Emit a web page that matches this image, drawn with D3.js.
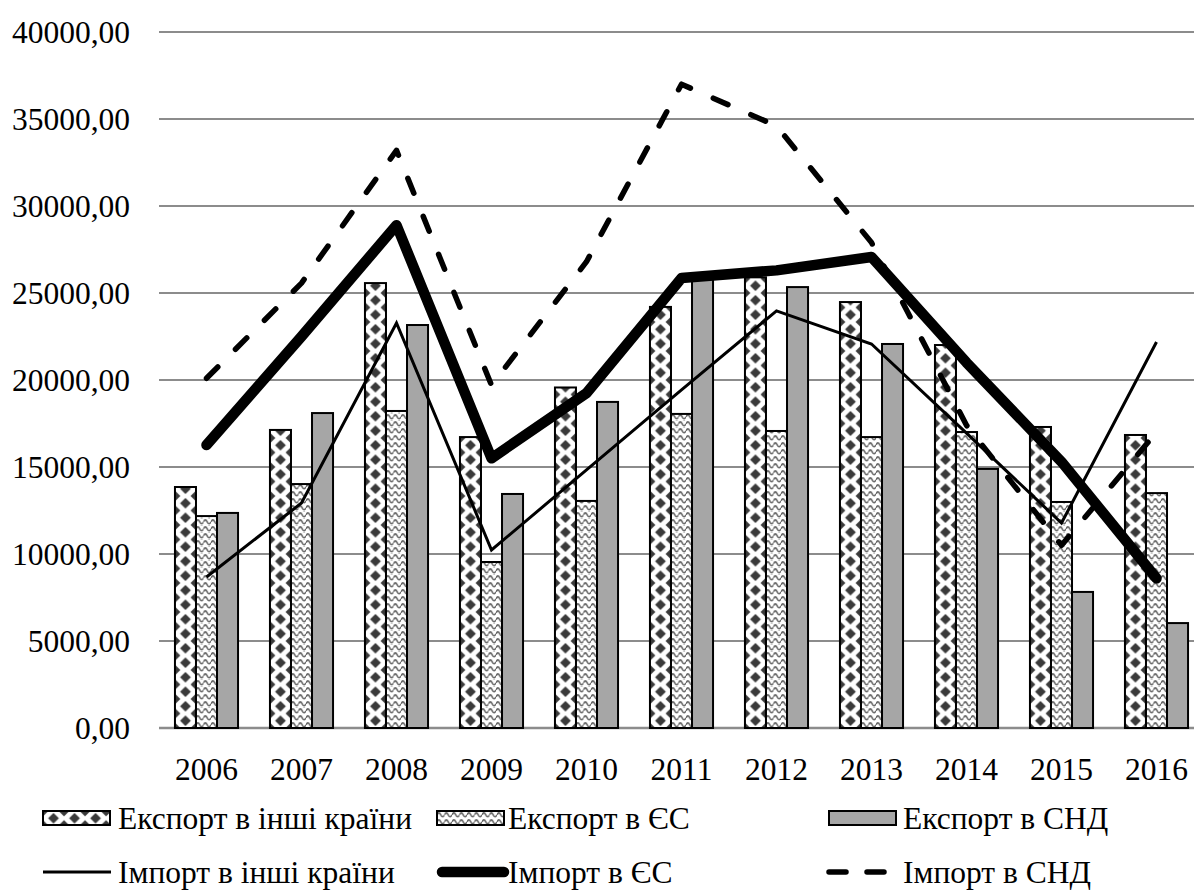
<!DOCTYPE html>
<html><head><meta charset="utf-8">
<script src="https://cdn.jsdelivr.net/npm/d3@7"></script>
<style>
html,body{margin:0;padding:0;background:#fff;}
text{font-family:"Liberation Serif","Times New Roman",serif;fill:#000;}
</style></head>
<body><svg id="chart" width="1194" height="893"></svg>
<script>
const years = ["2006","2007","2008","2009","2010","2011","2012","2013","2014","2015","2016"];
const exportOther = [13850,17130,25570,16720,19570,24200,25900,24480,22010,17300,16840];
const exportEU    = [12180,14020,18220,9540,13050,18050,17070,16720,17010,12990,13500];
const exportCIS   = [12360,18100,23160,13450,18740,25900,25340,22070,14890,7820,6030];
const importOther = [8680,12930,23280,10230,14830,19430,23970,22070,16950,11780,22180];
const importEU    = [16260,22500,28900,15500,19250,25860,26300,27070,21000,15300,8600];
const importCIS   = [20100,25570,33200,19700,26800,37000,34600,27900,17400,10500,17000];
const yTicks = [0,5000,10000,15000,20000,25000,30000,35000,40000];
const barSeriesNames = ["Експорт в інші країни","Експорт в ЄС","Експорт в СНД"];
const lineSeriesNames = ["Імпорт в інші країни","Імпорт в ЄС","Імпорт в СНД"];

const FS = 31.5;
const svg = d3.select("#chart");
svg.append("rect").attr("width",1194).attr("height",893).attr("fill","#fff");
const defs = svg.append("defs");

const x0 = d3.scaleBand().domain(years).range([159,1204]).padding(0);
const bw = x0.bandwidth();
const gap = bw*0.168;
const x1 = d3.scaleBand().domain([0,1,2]).range([gap,bw-gap]).padding(0);
const y = d3.scaleLinear().domain([0,40000]).range([728,32]);

// gridlines
svg.append("g").selectAll("line").data(yTicks).join("line")
  .attr("x1",159).attr("x2",1194)
  .attr("y1",d=>y(d)).attr("y2",d=>y(d))
  .attr("stroke","#8c8c8c").attr("stroke-width",d=>d===0?2.5:2);

// y labels
svg.append("g").selectAll("text").data(yTicks).join("text")
  .attr("x",130).attr("y",d=>y(d)).attr("dy","0.35em")
  .attr("text-anchor","end").attr("font-size",FS)
  .text(d=>d3.format(".2f")(d).replace(".",","));

// x labels
svg.append("g").selectAll("text").data(years).join("text")
  .attr("x",d=>x0(d)+bw/2).attr("y",780)
  .attr("text-anchor","middle").attr("font-size",FS).text(d=>d);

// pattern builders
function diamondPattern(id, px, py){
  const w = x1.bandwidth(), h = 14.5, r = 5.4;
  const p = defs.append("pattern").attr("id",id).attr("patternUnits","userSpaceOnUse")
    .attr("x",px).attr("y",py).attr("width",w).attr("height",h);
  p.append("rect").attr("width",w).attr("height",h).attr("fill","#fff");
  const centers = [[w/2,h/2],[0,0],[w,0],[0,h],[w,h]];
  p.selectAll("path").data(centers).join("path")
    .attr("d",c=>`M${c[0]},${c[1]-r}L${c[0]+r},${c[1]}L${c[0]},${c[1]+r}L${c[0]-r},${c[1]}Z`)
    .attr("fill","#3a3a3a");
}
function wavePattern(id, px, py){
  const w = 7.5, h = 7;
  const p = defs.append("pattern").attr("id",id).attr("patternUnits","userSpaceOnUse")
    .attr("x",px).attr("y",py).attr("width",w).attr("height",h);
  p.append("rect").attr("width",w).attr("height",h).attr("fill","#fff");
  p.append("path").attr("d",`M0,3.8 C1.3,1.2 2.45,1.2 3.75,3.8 S6.2,6.4 7.5,3.8`)
    .attr("fill","none").attr("stroke","#6a6a6a").attr("stroke-width",1.6);
}

const barSeries = [exportOther, exportEU, exportCIS];
const barData = [];
barSeries.forEach((vals,si)=>vals.forEach((v,i)=>barData.push({si, year:years[i], v})));
barData.forEach((d,k)=>{
  const bx = x0(d.year)+x1(d.si);
  if(d.si===0){ diamondPattern("pd"+k, bx, y(0)); d.fill = "url(#pd"+k+")"; }
  else if(d.si===1){ wavePattern("pw"+k, bx, y(0)); d.fill = "url(#pw"+k+")"; }
  else d.fill = "#a6a6a6";
});

svg.append("g").selectAll("rect").data(barData).join("rect")
  .attr("x",d=>x0(d.year)+x1(d.si))
  .attr("y",d=>y(d.v))
  .attr("width",x1.bandwidth())
  .attr("height",d=>y(0)-y(d.v))
  .attr("fill",d=>d.fill)
  .attr("stroke","#000").attr("stroke-width",2);

// lines
const lineGen = d3.line().x((d,i)=>x0(years[i])+bw/2).y(d=>y(d));
const lineStyles = [
  {vals:importOther, w:3, dash:null, cap:"butt", join:"miter"},
  {vals:importEU, w:10.5, dash:null, cap:"round", join:"round"},
  {vals:importCIS, w:5.5, dash:"16,25", cap:"round", join:"round"}
];
svg.append("g").selectAll("path").data(lineStyles).join("path")
  .attr("d",d=>lineGen(d.vals))
  .attr("fill","none").attr("stroke","#000")
  .attr("stroke-width",d=>d.w)
  .attr("stroke-dasharray",d=>d.dash)
  .attr("stroke-linecap",d=>d.cap)
  .attr("stroke-linejoin",d=>d.join);

// legend
const leg = svg.append("g");
const row1 = 818, row2 = 872;
const swX = [43, 437, 829];
const txX = [118, 508, 903];
const swDefs = [
  {fill:()=>{diamondPattern("lgd",swX[0],row1-7); return "url(#lgd)";}},
  {fill:()=>{wavePattern("lgw",swX[1],row1-7); return "url(#lgw)";}},
  {fill:()=>"#a6a6a6"}
];
barSeriesNames.forEach((name,i)=>{
  leg.append("rect").attr("x",swX[i]).attr("y",row1-7).attr("width",67).attr("height",14)
    .attr("fill",swDefs[i].fill()).attr("stroke","#000").attr("stroke-width",2);
  leg.append("text").attr("x",txX[i]).attr("y",row1).attr("dy","0.35em")
    .attr("font-size",FS).text(name);
});
lineSeriesNames.forEach((name,i)=>{
  const st = lineStyles[i];
  leg.append("line").attr("x1",swX[i]+(i===1?5:0)).attr("x2",swX[i]+(i===1?67:68))
    .attr("y1",row2).attr("y2",row2)
    .attr("stroke","#000").attr("stroke-width",st.w)
    .attr("stroke-dasharray",i===2?"17,21":null)
    .attr("stroke-linecap",st.cap);
  leg.append("text").attr("x",txX[i]).attr("y",row2).attr("dy","0.35em")
    .attr("font-size",FS).text(name);
});
</script></body></html>
